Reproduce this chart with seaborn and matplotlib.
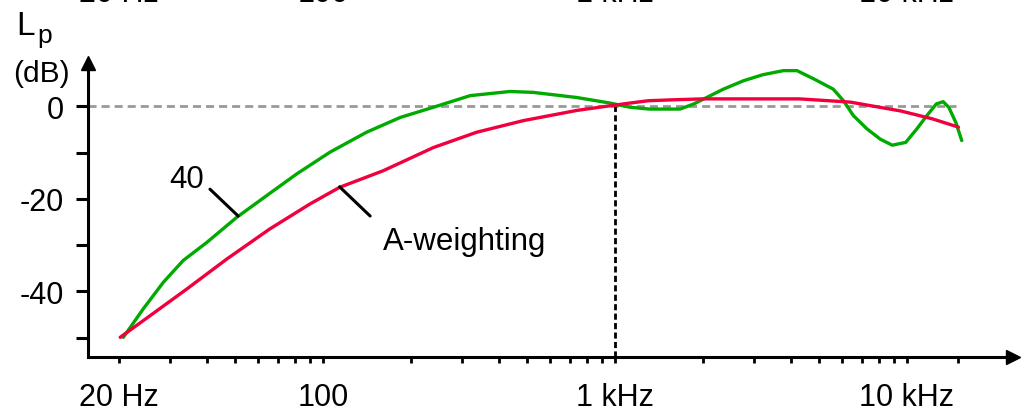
import numpy as np
import pandas as pd
import matplotlib
matplotlib.use("Agg")
import matplotlib.pyplot as plt
import matplotlib.transforms as mtransforms
from matplotlib.ticker import NullFormatter
import seaborn as sns

# 1. Dados (frequência em Hz, nível em dB)
green_freq = [20.7, 24.2, 28.4, 33.2, 40, 50.6, 64.1, 81.3, 105.7, 141, 184, 239, 319,
              437, 525, 739, 961, 1125, 1310, 1670, 1860, 2060, 2350, 2750, 3200, 3770,
              4200, 4800, 5590, 6060, 6550, 7300, 8100, 8900, 9900, 10800, 11700, 12600,
              13300, 13900, 14700, 15400]
green_db = [-49.9, -43.8, -38.0, -33.3, -29.4, -24.0, -19.3, -14.6, -9.9, -5.6, -2.4, -0.2,
            2.3, 3.2, 3.0, 1.9, 0.7, -0.2, -0.6, -0.6, 0.5, 1.9, 3.7, 5.5, 6.8, 7.7,
            7.7, 5.9, 3.7, 1.2, -2.0, -4.9, -7.1, -8.4, -7.8, -4.9, -2.0, 0.5,
            1.0, -0.2, -3.5, -7.4]

red_freq = [20.2, 25.6, 34.1, 46.8, 65.7, 90.2, 114, 161, 239, 336, 485, 739, 959, 1125,
            1300, 1580, 2000, 3000, 4290, 6400, 9500, 12200, 15000]
red_db = [-49.9, -45.2, -39.5, -33.0, -26.5, -21.1, -17.5, -13.9, -8.9, -5.6, -3.1, -0.9,
          0.1, 0.7, 1.2, 1.4, 1.6, 1.6, 1.6, 0.9, -1.0, -2.7, -4.5]

major_ticks = [20, 100, 1000, 10000]
major_labels = ["20 Hz", "100", "1 kHz", "10 kHz"]
minor_ticks = [30, 40, 50, 60, 70, 80, 90, 200, 300, 400, 500, 600, 700, 800, 900,
               2000, 3000, 4000, 5000, 6000, 7000, 8000, 9000, 15000]
y_ticks = [0, -10, -20, -30, -40, -50]
y_labels = ["0", "", "-20", "", "-40", ""]

green_df = pd.DataFrame({"freq": green_freq, "level": green_db})
red_df = pd.DataFrame({"freq": red_freq, "level": red_db})

# 2. Estilo
sns.set_style("white")
plt.rcParams["font.family"] = ["Liberation Sans", "DejaVu Sans"]
plt.rcParams["text.color"] = "black"
plt.rcParams["xtick.color"] = "black"
plt.rcParams["ytick.color"] = "black"

fig = plt.figure(figsize=(10.21, 4.10), dpi=100)
ax = fig.add_axes([88 / 1021, 1 - 358 / 410, (1013 - 88) / 1021, (358 - 64) / 410])
ax.set_xscale("log")
ax.set_xlim(15.67, 23070)
ax.set_ylim(-54.15, 9.35)

# linhas de referência
ax.hlines(0, 15.67, 14700, colors="#999999", linestyles=(0, (2.9, 1.8)), lw=2)
ax.vlines(1000, -54.15, 0, colors="black", linestyles=(0, (2.2, 1.2)), lw=2)

# 3. Curvas
sns.lineplot(data=green_df, x="freq", y="level", color="#00aa00", lw=2.4,
             sort=False, estimator=None, ax=ax)
sns.lineplot(data=red_df, x="freq", y="level", color="#f0003c", lw=2.4,
             sort=False, estimator=None, ax=ax)

# 4. Eixos com setas
for side in ["top", "right"]:
    ax.spines[side].set_visible(False)
for side in ["left", "bottom"]:
    ax.spines[side].set_linewidth(2.2)
    ax.spines[side].set_color("black")
ax.plot(1, 0, ">", color="black", ms=10, transform=ax.transAxes, clip_on=False)
ax.plot(0, 1, "^", color="black", ms=10, transform=ax.transAxes, clip_on=False)

ax.set_xticks(major_ticks)
ax.set_xticklabels(major_labels)
ax.set_xticks(minor_ticks, minor=True)
ax.xaxis.set_minor_formatter(NullFormatter())
ax.tick_params(axis="x", which="both", direction="out", length=4.3, width=2,
               labelsize=22, pad=14, bottom=True)
ax.set_yticks(y_ticks)
ax.set_yticklabels(y_labels)
ax.tick_params(axis="y", direction="out", length=8.6, width=2.2,
               labelsize=22, pad=9, left=True)
ax.set_xlabel("")
ax.set_ylabel("")

# 5. Rótulos das curvas
ax.plot([41, 51.2], [-17.9, -23.7], color="black", lw=2.2)
ax.text(34.2, -15.7, "40", fontsize=22.5, ha="center", va="center")
ax.plot([114, 145], [-17.4, -23.7], color="black", lw=2.2)
ax.text(160, -29.1, "A-weighting", fontsize=22.5, ha="left", va="center")

# título do eixo y
fig.text(16 / 1021, 1 - 35 / 410, "L", fontsize=24, va="baseline")
fig.text(37 / 1021, 1 - 43 / 410, "p", fontsize=19, va="baseline")
fig.text(13 / 1021, 1 - 82 / 410, "(dB)", fontsize=21.5, va="baseline")

# rótulos cortados no topo da imagem
trans = mtransforms.blended_transform_factory(ax.transData, fig.transFigure)
for f, lab in zip(major_ticks, major_labels):
    ax.text(f, 1 - 2.5 / 410, lab, fontsize=22, ha="center", va="baseline",
            transform=trans, clip_on=False)

fig.savefig("out.png", dpi=100)
